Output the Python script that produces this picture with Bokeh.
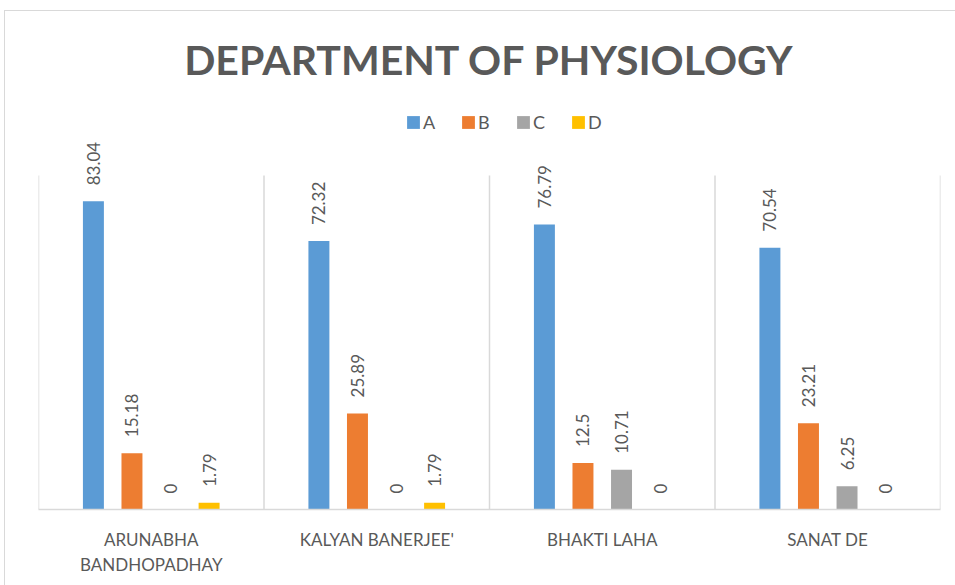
from math import pi
from bokeh.plotting import figure
from bokeh.models import (ColumnDataSource, Range1d, FixedTicker, LabelSet, Label,
                          Legend, LegendItem)
from bokeh.core.properties import value
from bokeh.embed import file_html
from bokeh.resources import INLINE

# ---- data ----
categories = ["ARUNABHA BANDHOPADHAY", "KALYAN BANERJEE'", "BHAKTI LAHA", "SANAT DE"]
tick_labels = ["ARUNABHA\nBANDHOPADHAY", "KALYAN BANERJEE'", "BHAKTI LAHA", "SANAT DE"]
series_names = ["A", "B", "C", "D"]
A = [83.04, 72.32, 76.79, 70.54]
B = [15.18, 25.89, 12.5, 23.21]
C = [0, 0, 10.71, 6.25]
D = [1.79, 1.79, 0, 0]
series_values = [A, B, C, D]
colors = ["#5B9BD5", "#ED7D31", "#A5A5A5", "#FFC000"]
AXIS_MAX = 90
TITLE = "DEPARTMENT OF PHYSIOLOGY"

# ---- layout ----
W, H = 955, 585
FRAME_H = 509            # frame spans figure top to baseline
AXIS_PX = 334            # pixels from baseline to AXIS_MAX
px_per_unit = AXIS_PX / AXIS_MAX
y_top = FRAME_H / px_per_unit

TEXT = "#595959"
FONT = "Lato"

p = figure(width=W, height=H, x_range=Range1d(-0.5, len(categories) - 0.5),
           y_range=Range1d(0, y_top), y_axis_type=None,
           output_backend="svg", toolbar_location=None,
           min_border_left=38, min_border_right=15, min_border_top=0,
           min_border_bottom=H - FRAME_H)
p.grid.visible = False
p.outline_line_color = None
p.background_fill_color = None
p.border_fill_color = None
p.styles = {"box-shadow": "inset 4px 10px 0 0 #ffffff, inset 5px 11px 0 0 #d9d9d9",
            "background": "#ffffff"}

# category separators
bounds = [i - 0.5 for i in range(len(categories) + 1)]
p.segment(x0=bounds, y0=[0] * len(bounds), x1=bounds, y1=[AXIS_MAX] * len(bounds),
          line_color="#d9d9d9", line_width=1.5)

# bars
n = len(series_names)
step = 0.171
bar_w = 0.093
items = []
for j, (name, vals) in enumerate(zip(series_names, series_values)):
    off = (j - (n - 1) / 2) * step
    src = ColumnDataSource(dict(
        x=[i + off for i in range(len(categories))],
        top=vals,
        label=[f"{v:g}" for v in vals],
    ))
    r = p.vbar(x="x", top="top", width=bar_w, bottom=0, source=src,
               fill_color=colors[j], line_color=None)
    items.append(LegendItem(label=name, renderers=[r]))
    p.add_layout(LabelSet(x="x", y="top", text="label", source=src,
                          angle=pi / 2, text_align="left", text_baseline="middle",
                          y_offset=16, text_font=value(FONT), text_font_size=value("17px"),
                          text_color=TEXT))

# x axis
xa = p.xaxis[0]
xa.ticker = FixedTicker(ticks=list(range(len(categories))))
xa.major_label_overrides = {i: lab for i, lab in enumerate(tick_labels)}
xa.major_tick_line_color = None
xa.major_tick_out = 0
xa.major_tick_in = 0
xa.minor_tick_line_color = None
xa.axis_line_color = "#d9d9d9"
xa.axis_line_width = 1.5
xa.major_label_standoff = 19
xa.major_label_text_font = FONT
xa.major_label_text_font_size = "17px"
xa.major_label_text_color = TEXT

# legend
legend = Legend(items=items, orientation="horizontal", location=(367, 376),
                background_fill_alpha=0, border_line_color=None,
                glyph_width=16, glyph_height=16, label_standoff=2, spacing=17,
                padding=0, margin=0,
                label_text_font=FONT, label_text_font_size="18px",
                label_text_color=TEXT)
p.add_layout(legend)

# title
title_y = (FRAME_H - 58.5) / px_per_unit
p.add_layout(Label(x=(len(categories) - 1) / 2, y=title_y, text=TITLE,
                   text_align="center", text_baseline="middle",
                   text_font=FONT, text_font_style="bold", text_font_size="41px",
                   text_color=TEXT))

open("out.html", "w").write(file_html(p, INLINE))
